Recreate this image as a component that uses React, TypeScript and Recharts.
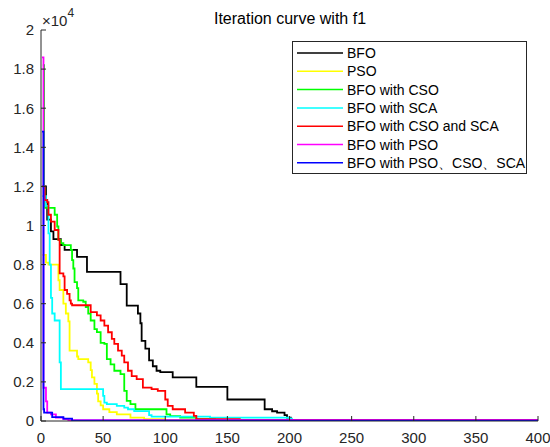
import { LineChart, Line, XAxis, YAxis } from 'recharts';

// values in units of 1e4, [iteration, best fitness] pairs, drawn as steps
const xTicks = [0, 50, 100, 150, 200, 250, 300, 350, 400];
const yTicks = [0, 0.2, 0.4, 0.6, 0.8, 1, 1.2, 1.4, 1.6, 1.8, 2];

const seriesNames = [
  'BFO',
  'PSO',
  'BFO with CSO',
  'BFO with SCA',
  'BFO with CSO and SCA',
  'BFO with PSO',
  'BFO with PSO、CSO、SCA',
];
const seriesColors = ['#000000', '#ffff00', '#00ff00', '#00ffff', '#ff0000', '#ff00ff', '#0000ff'];

const bfo = [
  [1, 1.2], [4, 1.13], [5, 1.03], [8, 0.97], [10, 0.93], [16, 0.9], [19, 0.875], [29, 0.84],
  [37, 0.763], [64, 0.7], [69, 0.59], [78, 0.55], [80, 0.5], [81, 0.41], [84, 0.37], [87, 0.31],
  [90, 0.28], [93, 0.257], [96, 0.25], [106, 0.223], [125, 0.175], [150, 0.11], [180, 0.06],
  [186, 0.05], [190, 0.043], [196, 0.03], [198, 0.017], [201, 0.004], [400, 0.004],
];
const pso = [
  [1, 0.85], [4, 0.81], [6, 0.8], [14, 0.72], [15, 0.67], [18, 0.6], [20, 0.55], [22, 0.51],
  [23, 0.36], [29, 0.33], [30, 0.317], [38, 0.3], [40, 0.26], [41, 0.223], [43, 0.19], [45, 0.14],
  [46, 0.1], [48, 0.08], [50, 0.06], [55, 0.045], [61, 0.034], [72, 0.017], [83, 0.01],
  [100, 0.006], [130, 0.003], [400, 0.003],
];
const bfoCso = [
  [1.5, 1.82], [2.5, 1.2], [3, 1.09], [11, 1.055], [13, 0.995], [14, 0.926], [16, 0.91], [18, 0.9],
  [24, 0.875], [25, 0.823], [26, 0.78], [27, 0.71], [29, 0.68], [30, 0.617], [34, 0.61],
  [36, 0.583], [38, 0.549], [40, 0.514], [43, 0.47], [45, 0.455], [48, 0.4], [51, 0.395],
  [53, 0.317], [56, 0.29], [59, 0.257], [64, 0.24], [67, 0.154], [69, 0.103], [72, 0.086],
  [76, 0.06], [101, 0.034], [104, 0.025], [112, 0.017], [125, 0.01], [140, 0.005], [400, 0.004],
];
const bfoSca = [
  [1, 1.15], [4, 1.1], [6, 0.96], [7, 0.8], [8, 0.63], [9, 0.55], [11, 0.514], [15, 0.3],
  [16, 0.163], [50, 0.129], [51, 0.094], [53, 0.086], [61, 0.077], [67, 0.068], [70, 0.06],
  [75, 0.051], [87, 0.03], [89, 0.022], [136, 0.017], [200, 0.012], [202, 0.006], [400, 0.006],
];
const bfoCsoSca = [
  [1, 1.2], [3, 1.13], [5, 1.12], [6, 1.055], [8, 1.02], [11, 0.977], [14, 0.926], [15, 0.755],
  [18, 0.74], [19, 0.67], [21, 0.65], [23, 0.617], [24, 0.6], [25, 0.592], [40, 0.557],
  [45, 0.54], [48, 0.514], [51, 0.488], [54, 0.454], [57, 0.42], [59, 0.395], [62, 0.36],
  [65, 0.334], [67, 0.3], [70, 0.257], [73, 0.23], [77, 0.214], [82, 0.171], [89, 0.163],
  [94, 0.154], [100, 0.11], [102, 0.077], [106, 0.06], [116, 0.043], [123, 0.026], [125, 0.009],
  [160, 0.005], [400, 0.004],
];
const bfoPso = [
  [0.8, 1.86], [2, 0.17], [4, 0.1], [5, 0.043], [8, 0.034], [12, 0.017], [18, 0.01], [22, 0.004],
  [400, 0.002],
];
const bfoPsoCsoSca = [
  [0.8, 1.48], [2, 0.06], [2.5, 0.043], [9, 0.02], [18, 0.012], [25, 0.002], [400, 0.001],
];

const allSeries = [bfo, pso, bfoCso, bfoSca, bfoCsoSca, bfoPso, bfoPsoCsoSca];

const axisColor = '#262626';
const font = '"Liberation Sans", Arial, sans-serif';

function LegendBox() {
  return (
    <svg
      width={550}
      height={447}
      style={{ position: 'absolute', left: 0, top: 0, pointerEvents: 'none' }}
    >
      <text x={290} y={24} textAnchor="middle" fontSize={16} fill="#000" fontFamily={font}>
        Iteration curve with f1
      </text>
      <text x={42} y={26} fontSize={15} fill={axisColor} fontFamily={font}>
        ×10
        <tspan dy={-9} fontSize={12}>4</tspan>
      </text>
      <rect x={292.5} y={41.5} width={234} height={132} fill="#fff" stroke={axisColor} strokeWidth={1} />
      {seriesNames.map((name, i) => {
        const cy = 53 + i * 18.3;
        return (
          <g key={name}>
            <line x1={297} x2={343} y1={cy} y2={cy} stroke={seriesColors[i]} strokeWidth={1.5} />
            <text x={347} y={cy + 5} fontSize={14} fill="#000" fontFamily={font}>
              {name}
            </text>
          </g>
        );
      })}
    </svg>
  );
}

export default function App() {
  return (
    <div
      style={{
        position: 'fixed',
        left: 0,
        top: 0,
        width: 550,
        height: 447,
        background: '#fff',
        fontFamily: font,
      }}
    >
      <LineChart width={550} height={447} margin={{ top: 30, right: 12, bottom: 0, left: 0 }}>
        <XAxis
          xAxisId="bottom"
          dataKey="x"
          type="number"
          domain={[0, 400]}
          ticks={xTicks}
          allowDataOverflow
          height={26}
          tickSize={-5}
          tickMargin={16}
          stroke={axisColor}
          tick={{ fill: axisColor, fontSize: 15 }}
        />
        <XAxis
          xAxisId="top"
          orientation="top"
          dataKey="x"
          type="number"
          domain={[0, 400]}
          ticks={xTicks}
          allowDataOverflow
          height={0}
          tickSize={-5}
          stroke={axisColor}
          tickFormatter={() => ''}
        />
        <YAxis
          yAxisId="left"
          type="number"
          domain={[0, 2]}
          ticks={yTicks}
          allowDataOverflow
          width={41}
          tickSize={-5}
          tickMargin={12}
          stroke={axisColor}
          tick={{ fill: axisColor, fontSize: 15 }}
        />
        <YAxis
          yAxisId="right"
          orientation="right"
          type="number"
          domain={[0, 2]}
          ticks={yTicks}
          allowDataOverflow
          width={0}
          tickSize={-5}
          stroke={axisColor}
          tickFormatter={() => ''}
        />
        {allSeries.map((pts, i) => (
          <Line
            key={seriesNames[i]}
            xAxisId="bottom"
            yAxisId="left"
            data={pts.map(([x, y]) => ({ x, y }))}
            dataKey="y"
            type="stepAfter"
            stroke={seriesColors[i]}
            strokeWidth={1.8}
            dot={false}
            isAnimationActive={false}
          />
        ))}
      </LineChart>
      <LegendBox />
    </div>
  );
}
